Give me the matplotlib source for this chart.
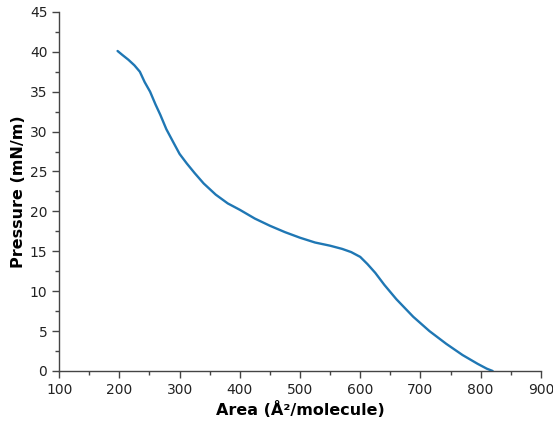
import matplotlib
matplotlib.use('Agg')
import matplotlib.pyplot as plt
from matplotlib.ticker import MultipleLocator

# Isotherm
area = [197, 205, 215, 225, 234, 242, 251, 260, 268, 278, 290, 300, 312, 325,
        340, 360, 380, 400, 425, 450, 475, 500, 525, 550, 570, 585, 600, 612,
        625, 640, 660, 688, 715, 743, 770, 795, 810, 820]
pressure = [40.1, 39.6, 39.0, 38.3, 37.5, 36.2, 35.0, 33.4, 32.1, 30.3, 28.6,
            27.2, 26.0, 24.8, 23.5, 22.1, 21.0, 20.2, 19.1, 18.2, 17.4, 16.7,
            16.1, 15.7, 15.3, 14.9, 14.3, 13.4, 12.3, 10.8, 9.0, 6.8, 5.0, 3.4,
            2.0, 0.9, 0.3, 0.0]

fig = plt.figure(figsize=(5.53, 4.24), dpi=100)
ax = fig.add_axes([0.107, 0.125, 0.871, 0.847])

ax.plot(area, pressure, color='#1f77b4', linewidth=1.7,
        solid_joinstyle='round', solid_capstyle='round')

ax.set_xlim(100, 900)
ax.set_ylim(0, 45)
ax.xaxis.set_major_locator(MultipleLocator(100))
ax.xaxis.set_minor_locator(MultipleLocator(50))
ax.yaxis.set_major_locator(MultipleLocator(5))
ax.yaxis.set_minor_locator(MultipleLocator(2.5))

for side in ['top', 'right']:
    ax.spines[side].set_visible(False)
for side in ['left', 'bottom']:
    ax.spines[side].set_color('#444444')
    ax.spines[side].set_linewidth(1.0)

ax.tick_params(which='major', length=5, width=1, color='#444444', labelsize=10, labelcolor='#222222')
ax.tick_params(which='minor', length=3, width=1, color='#444444')

ax.set_xlabel('Area (Å²/molecule)', fontsize=11.5, fontweight='bold', labelpad=3)
ax.set_ylabel('Pressure (mN/m)', fontsize=11.5, fontweight='bold', labelpad=3)

fig.savefig('out.png', dpi=100)
